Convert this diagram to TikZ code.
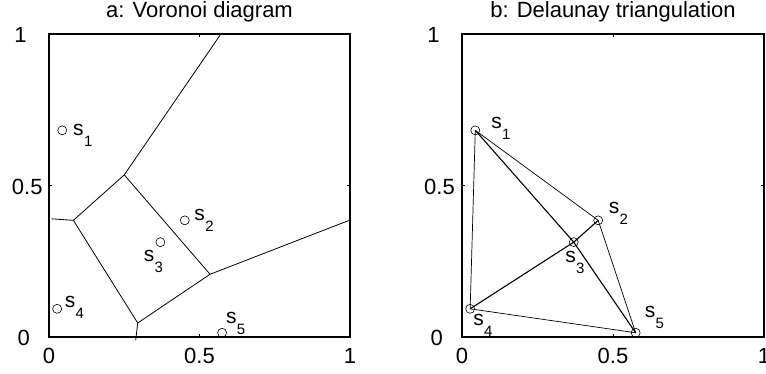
\documentclass[tikz,border=0pt]{standalone}
\usepackage{fontspec}
\setmainfont{Liberation Sans}
\usetikzlibrary{positioning}

\newcommand{\sitelab}[1]{s\kern0.3pt\raisebox{-11pt}{\fontsize{15}{15}\selectfont #1}}

\begin{document}
\begin{tikzpicture}[
    site/.style={circle,draw,inner sep=0pt,minimum size=9pt,line width=0.6pt},
    slab/.style={anchor=base west,inner sep=0pt,font=\fontsize{21}{21}\selectfont},
    tick/.style={inner sep=0pt,font=\fontsize{22}{22}\selectfont},
    ttl/.style={anchor=base,inner sep=0pt,font=\fontsize{22}{22}\selectfont},
    frame/.style={line width=1.8pt},
    vedge/.style={line width=0.8pt},
    dedge/.style={line width=0.7pt},
    dinner/.style={line width=1.1pt}]

  \useasboundingbox (0,0) rectangle (766pt,374pt);

  % a: Voronoi diagram
  \begin{scope}[shift={(49pt,37pt)},x=301pt,y=303pt]
    \draw[frame] (0,0) rectangle (1,1);
    \draw[line width=0.6pt] (0.5,0) -- ++(0,3pt) (0.5,1) -- ++(0,-3pt)
                            (0,0.5) -- ++(3pt,0) (1,0.5) -- ++(-3pt,0);
    \node[ttl] (ta) at (0.5,1) [yshift=16.7pt] {a: Voronoi diagram};
    \foreach \v/\n in {0/0,0.5/5,1/10}
      \node[tick,anchor=base] (ax\n) at (\v,0) [yshift=-27pt] {\v};
    \foreach \v/\d/\n in {0/-19/0,0.5/-6.3/5,1/-22.3/10}
      \node[tick,anchor=base east] (ay\n) at (0,\v) [xshift=\d pt,yshift=-9pt] {\v};

    \coordinate (vT) at (0.571,1);
    \coordinate (vA) at (0.25,0.535);
    \coordinate (vB) at (0.081,0.385);
    \coordinate (vL) at (0.009,0.39);
    \coordinate (vC) at (0.535,0.207);
    \coordinate (vR) at (1,0.386);
    \coordinate (vD) at (0.2947,0.0462);
    \coordinate (vE) at (0.288,-0.011);
    \draw[vedge] (vT) -- (vA) -- (vB) -- (vL);
    \draw[vedge] (vA) -- (vC) -- (vR);
    \draw[vedge] (vB) -- (vD) -- (vC);
    \draw[vedge] (vD) -- (vE);

    \node[site] (a1) at (0.044,0.682) {};
    \node[site] (a2) at (0.451,0.385) {};
    \node[site] (a3) at (0.37,0.313) {};
    \node[site] (a4) at (0.027,0.093) {};
    \node[site] (a5) at (0.575,0.014) {};
    \node[slab] (la1) at ([shift={(10.8pt,-5.3pt)}]a1.center) {\sitelab{1}};
    \node[slab] (la2) at ([shift={(9.5pt,0pt)}]a2.center) {\sitelab{2}};
    \node[slab] (la3) at ([shift={(-16.8pt,-19pt)}]a3.center) {\sitelab{3}};
    \node[slab] (la4) at ([shift={(7.5pt,1pt)}]a4.center) {\sitelab{4}};
    \node[slab] (la5) at ([shift={(3.9pt,9pt)}]a5.center) {\sitelab{5}};
  \end{scope}

  % b: Delaunay triangulation
  \begin{scope}[shift={(462pt,37pt)},x=302pt,y=303pt]
    \draw[frame] (0,0) rectangle (1,1);
    \draw[line width=0.6pt] (0.5,0) -- ++(0,3pt) (0.5,1) -- ++(0,-3pt)
                            (0,0.5) -- ++(3pt,0) (1,0.5) -- ++(-3pt,0);
    \node[ttl] (tb) at (0.5,1) [yshift=16.7pt] {b: Delaunay triangulation};
    \foreach \v/\n in {0/0,0.5/5,1/10}
      \node[tick,anchor=base] (bx\n) at (\v,0) [yshift=-27pt] {\v};
    \foreach \v/\d/\n in {0/-19/0,0.5/-7/5,1/-22.3/10}
      \node[tick,anchor=base east] (by\n) at (0,\v) [xshift=\d pt,yshift=-9pt] {\v};

    \node[site] (b1) at (0.044,0.682) {};
    \node[site] (b2) at (0.451,0.385) {};
    \node[site] (b3) at (0.37,0.313) {};
    \node[site] (b4) at (0.027,0.093) {};
    \node[site] (b5) at (0.575,0.014) {};
    \draw[dedge] (b1.center) -- (b4.center) -- (b5.center) -- (b2.center) -- (b1.center);
    \draw[dinner] (b1.center) -- (b3.center) -- (b5.center);
    \draw[dinner] (b4.center) -- (b3.center) -- (b2.center);
    \node[slab] (lb1) at ([shift={(15.8pt,2pt)}]b1.center) {\sitelab{1}};
    \node[slab] (lb2) at ([shift={(10.5pt,6.6pt)}]b2.center) {\sitelab{2}};
    \node[slab] (lb3) at ([shift={(-8.5pt,-20.7pt)}]b3.center) {\sitelab{3}};
    \node[slab] (lb4) at ([shift={(2.9pt,-16.6pt)}]b4.center) {\sitelab{4}};
    \node[slab] (lb5) at ([shift={(8.9pt,15.7pt)}]b5.center) {\sitelab{5}};
  \end{scope}
\end{tikzpicture}
\end{document}
